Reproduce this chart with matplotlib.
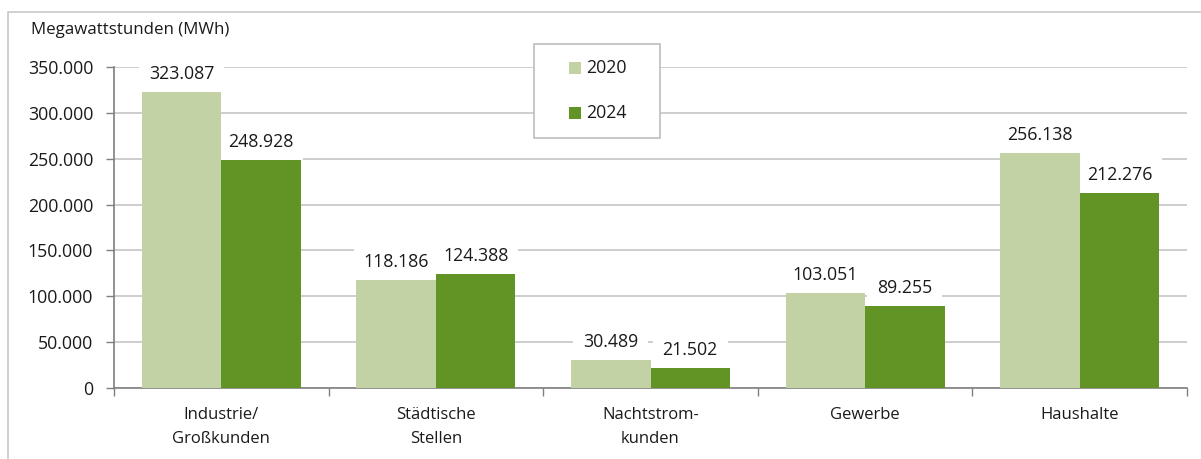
import matplotlib
matplotlib.use("Agg")
import matplotlib.pyplot as plt
import numpy as np
from matplotlib.patches import Rectangle
from matplotlib.ticker import FuncFormatter

plt.rcParams['font.family'] = ['Open Sans', 'DejaVu Sans']

categories = ["Industrie/\nGroßkunden", "Städtische\nStellen", "Nachtstrom-\nkunden", "Gewerbe", "Haushalte"]
series_names = ["2020", "2024"]
values_2020 = [323087, 118186, 30489, 103051, 256138]
values_2024 = [248928, 124388, 21502, 89255, 212276]
yticks = [0, 50000, 100000, 150000, 200000, 250000, 300000, 350000]

c_light = "#c2d2a4"
c_dark = "#619325"
grid_c = "#c6c6c6"
text_c = "#1a1a1a"
num_fs = 12.8

W, H = 1201, 459
fig = plt.figure(figsize=(W / 100, H / 100), dpi=100)
ax = fig.add_axes([114 / W, 1 - 388 / H, (1187 - 114) / W, (388 - 67) / H])

x = np.arange(len(categories))
bw = 0.37
b1 = ax.bar(x - bw / 2, values_2020, bw, color=c_light, label=series_names[0], zorder=3)
b2 = ax.bar(x + bw / 2, values_2024, bw, color=c_dark, label=series_names[1], zorder=3)

def fmt(v):
    return f"{v:,.0f}".replace(",", ".")

for bars, vals in ((b1, values_2020), (b2, values_2024)):
    for r, v in zip(bars, vals):
        ax.annotate(fmt(v), (r.get_x() + r.get_width() / 2, v), xytext=(0, 6.5),
                    textcoords="offset points", ha="center", va="bottom",
                    fontsize=num_fs, color=text_c, zorder=2,
                    bbox=dict(boxstyle="square,pad=0.55", fc="white", ec="none"))

ax.set_xlim(-0.5, len(categories) - 0.5)
ax.set_ylim(0, 350000)
ax.set_yticks(yticks)
ax.yaxis.set_major_formatter(FuncFormatter(lambda v, p: fmt(v)))
ax.tick_params(axis="y", labelsize=num_fs, colors="#7f7f7f", labelcolor=text_c, length=6, width=1, pad=9)
ax.yaxis.grid(True, color=grid_c, lw=1.2, zorder=0)
ax.set_axisbelow(True)

ax.set_xticks(np.arange(-0.5, len(categories), 1.0))
ax.set_xticklabels([])
ax.set_xticks(x, minor=True)
ax.set_xticklabels(categories, minor=True, fontsize=12, color=text_c, linespacing=1.6)
ax.tick_params(axis="x", which="major", length=6, width=1, colors="#7f7f7f")
ax.tick_params(axis="x", which="minor", length=0, pad=14)

for s in ("top", "right"):
    ax.spines[s].set_visible(False)
for s in ("left", "bottom"):
    ax.spines[s].set_color("#7f7f7f")
    ax.spines[s].set_linewidth(1.2)

fig.text(31 / W, 1 - 30 / H, "Megawattstunden (MWh)", fontsize=12.2, color=text_c, va="center", ha="left")

# legend (manual placement to match the framed box)
fig.patches.append(Rectangle((534 / W, 1 - 138 / H), (660 - 534) / W, (138 - 44) / H,
                             transform=fig.transFigure, fc="white", ec="#bdbdbd", lw=1.2, zorder=5))
for name, col, yc in ((series_names[0], c_light, 68), (series_names[1], c_dark, 113)):
    fig.patches.append(Rectangle((569 / W, 1 - (yc + 6) / H), 12 / W, 12 / H,
                                 transform=fig.transFigure, fc=col, ec="none", zorder=6))
    fig.text(586 / W, 1 - yc / H, name, fontsize=num_fs, color=text_c, va="center", ha="left", zorder=7)

fig.patches.append(Rectangle((8 / W, -0.1), 1.2, 1 - 12 / H + 0.1, transform=fig.transFigure,
                             fill=False, ec="#c8c8c8", lw=1.2))

fig.savefig("out.png", dpi=100)
